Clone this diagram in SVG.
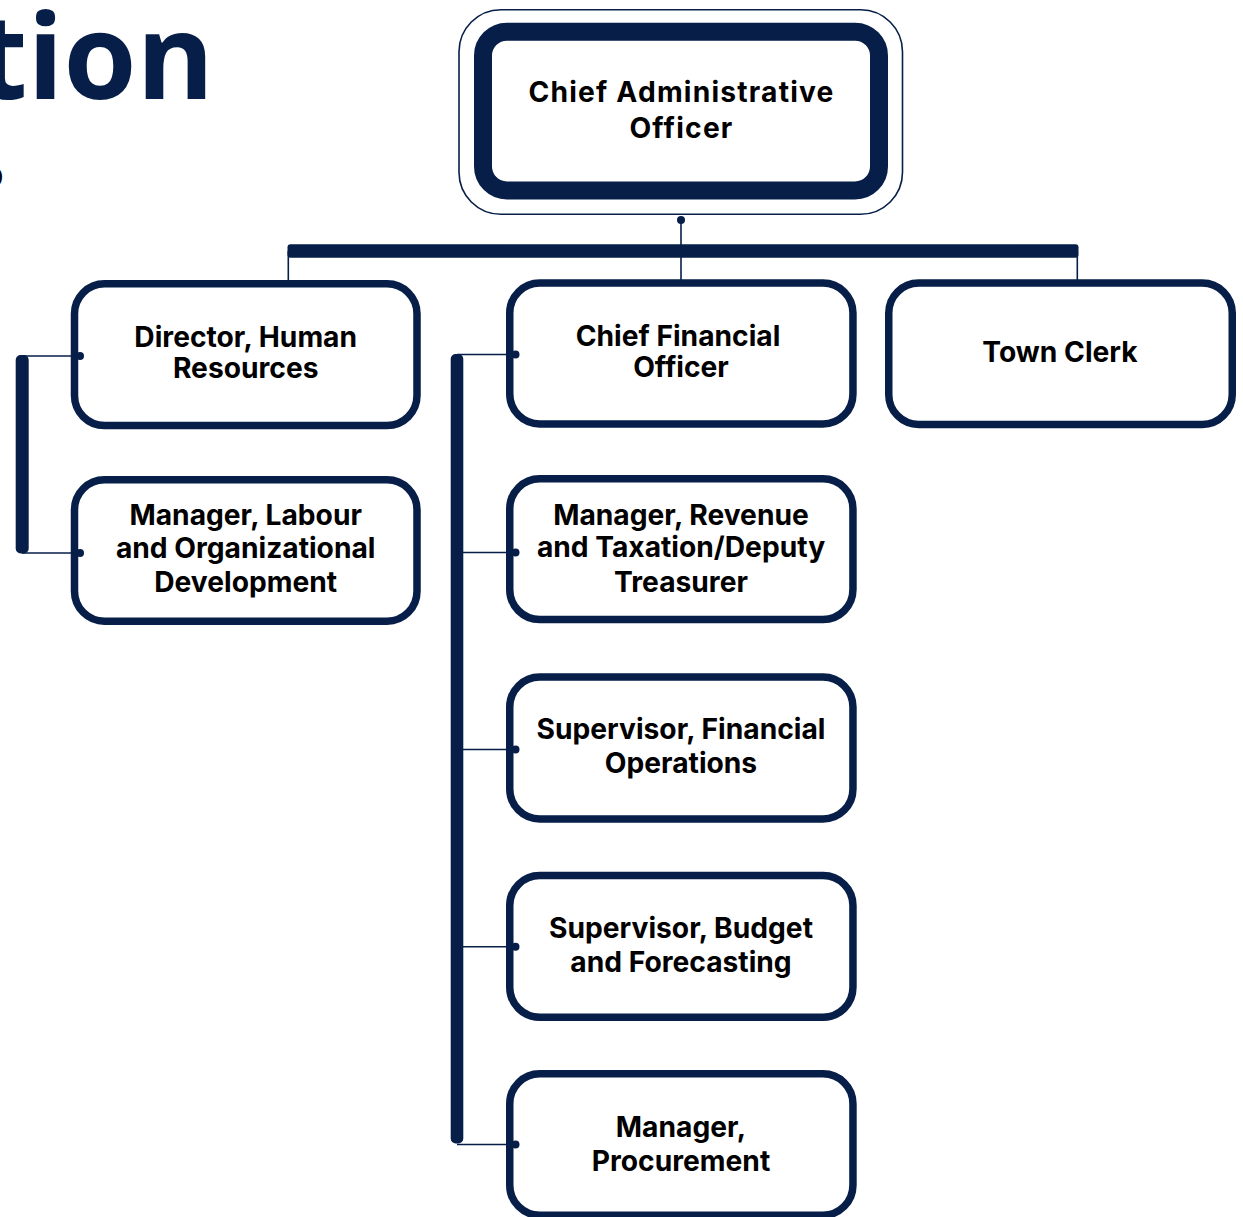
<svg xmlns="http://www.w3.org/2000/svg" width="1243" height="1217" viewBox="0 0 1243 1217">
<style>
.box{fill:#fff;stroke:#061e48;stroke-width:7.5}
.t{font-family:Inter,"Liberation Sans",sans-serif;font-weight:700;font-size:28.2px;fill:#000;text-anchor:middle}
.ln{stroke:#061e48;stroke-width:1.6;fill:none}
.dot{fill:#061e48}
.bar{fill:#061e48}
</style>
<rect width="1243" height="1217" fill="#fff"/>
<g id="title">
<text x="214" y="99" font-family="'Open Sans',sans-serif" font-weight="700" font-size="118" fill="#061e48" text-anchor="end">tion</text>
<text x="4" y="187" font-family="'Open Sans',sans-serif" font-weight="400" font-size="36" fill="#000" text-anchor="end">o</text>
</g>
<g id="cao">
<rect x="459" y="9.7" width="443.5" height="204.6" rx="42" fill="#fff" stroke="#061e48" stroke-width="1.6"/>
<rect x="483" y="31.7" width="396" height="158.8" rx="24" fill="#fff" stroke="#061e48" stroke-width="18"/>
<text class="t" x="681.5" y="101.7" font-size="32" letter-spacing="1.2">Chief Administrative</text>
<text class="t" x="681.5" y="138.3" font-size="32" letter-spacing="1.2">Officer</text>
</g>
<g id="hr">
<rect class="box" x="74.5" y="283.75" width="342.5" height="141.8" rx="30"/>
<text class="t" x="245.7" y="346.7">Director, Human</text>
<text class="t" x="245.7" y="378.3">Resources</text>
</g>
<g id="labour">
<rect class="box" x="74.5" y="479.75" width="342.5" height="141.5" rx="30"/>
<text class="t" x="245.7" y="525">Manager, Labour</text>
<text class="t" x="245.7" y="558.3">and Organizational</text>
<text class="t" x="245.7" y="591.7">Development</text>
</g>
<g id="cfo">
<rect class="box" x="509.75" y="283" width="343.2" height="141" rx="30"/>
<text class="t" x="678" y="346">Chief Financial</text>
<text class="t" x="681" y="377.3">Officer</text>
</g>
<g id="town-clerk">
<rect class="box" x="888.75" y="283" width="343.5" height="141.5" rx="30"/>
<text class="t" x="1060" y="361.7">Town Clerk</text>
</g>
<g id="revenue">
<rect class="box" x="509.75" y="478.75" width="343.2" height="140.8" rx="30"/>
<text class="t" x="681" y="525">Manager, Revenue</text>
<text class="t" x="681" y="557.3">and Taxation/Deputy</text>
<text class="t" x="681" y="591.7">Treasurer</text>
</g>
<g id="fin-ops">
<rect class="box" x="509.75" y="677" width="343.2" height="142" rx="30"/>
<text class="t" x="681" y="739.3">Supervisor, Financial</text>
<text class="t" x="681" y="773.3">Operations</text>
</g>
<g id="budget">
<rect class="box" x="509.75" y="875.5" width="343.2" height="141.8" rx="30"/>
<text class="t" x="681" y="937.7">Supervisor, Budget</text>
<text class="t" x="681" y="971.7">and Forecasting</text>
</g>
<g id="procurement">
<rect class="box" x="509.75" y="1073.75" width="343.2" height="141.5" rx="30"/>
<text class="t" x="681" y="1136.7">Manager,</text>
<text class="t" x="681" y="1170.7">Procurement</text>
</g>
<g id="connectors">
<circle class="dot" cx="681" cy="220" r="4"/>
<line class="ln" x1="681" y1="220" x2="681" y2="281"/>
<rect class="bar" x="287.5" y="244.3" width="791" height="13.4" rx="3"/>
<line class="ln" x1="288.3" y1="251" x2="288.3" y2="281"/>
<line class="ln" x1="1077.3" y1="251" x2="1077.3" y2="281"/>
<rect class="bar" x="15.7" y="355" width="13" height="198.5" rx="5"/>
<line class="ln" x1="22" y1="356" x2="76" y2="356"/>
<line class="ln" x1="22" y1="553" x2="76" y2="553"/>
<circle class="dot" cx="80" cy="356" r="4"/>
<circle class="dot" cx="80" cy="553" r="4"/>
<rect class="bar" x="450.7" y="354" width="12.6" height="789.5" rx="5"/>
<line class="ln" x1="457" y1="354.5" x2="511" y2="354.5"/>
<line class="ln" x1="457" y1="552.5" x2="511" y2="552.5"/>
<line class="ln" x1="457" y1="749.5" x2="511" y2="749.5"/>
<line class="ln" x1="457" y1="946.7" x2="511" y2="946.7"/>
<line class="ln" x1="457" y1="1144.5" x2="511" y2="1144.5"/>
<circle class="dot" cx="515.5" cy="354.5" r="4"/>
<circle class="dot" cx="515.5" cy="552.5" r="4"/>
<circle class="dot" cx="515.5" cy="749.5" r="4"/>
<circle class="dot" cx="515.5" cy="946.7" r="4"/>
<circle class="dot" cx="515.5" cy="1144.5" r="4"/>
</g>
</svg>
